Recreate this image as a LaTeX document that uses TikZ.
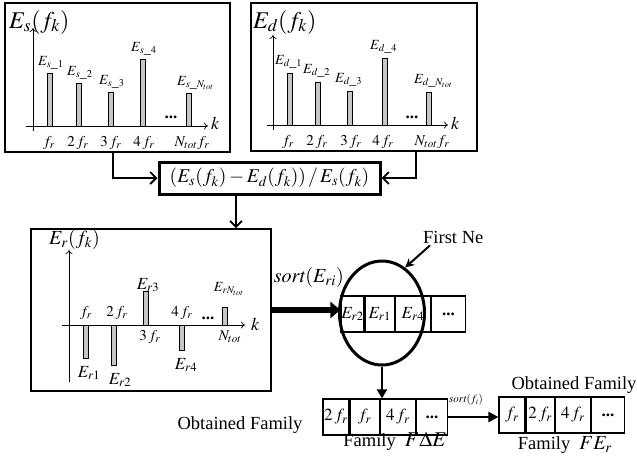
\documentclass[tikz,border=0pt]{standalone}
\usepackage{mathptmx}
\usepackage[no-math]{fontspec}
\setmainfont{Liberation Serif}
\usetikzlibrary{arrows.meta,positioning,shapes.geometric}

\begin{document}
\begin{tikzpicture}[x=1pt,y=-1pt,
  panel/.style={draw,line width=1.6pt,inner sep=0pt},
  bar/.style={draw,fill=gray!45,line width=0.8pt},
  axis/.style={line width=0.7pt,-{To[length=4pt,width=7pt]}},
  tick/.style={font=\fontsize{15}{17}\selectfont,inner sep=0pt},
  small/.style={font=\fontsize{14}{16}\selectfont,inner sep=0pt},
  word/.style={font=\fontsize{18.5}{22}\selectfont,inner sep=0pt},
  cell/.style={draw,line width=1.2pt,minimum height=36pt,inner sep=0pt,font=\fontsize{17}{19}\selectfont},
  link/.style={line width=1.8pt,-{Straight Barb[length=6pt,width=12pt]}},
  fat/.style={line width=6pt,-{Triangle[length=10pt,width=16pt]}}
]
\useasboundingbox (0,0) rectangle (637,461);

% the three spectrum panels and the ratio box
\node[panel,minimum width=225pt,minimum height=149pt] (ps) at (117.5,77.5) {};
\node[panel,minimum width=226pt,minimum height=148pt] (pd) at (364,77) {};
\node[panel,line width=3pt,minimum width=221pt,minimum height=32pt,font=\fontsize{19.5}{22}\selectfont] (fmla) at (269.5,178) {$(E_s(f_k)-E_d(f_k))\,/\,E_s(f_k)$};
\node[panel,minimum width=240pt,minimum height=162pt] (pr) at (151,310) {};

% E_s panel
\node[font=\fontsize{24}{28}\selectfont,anchor=west,inner sep=0pt] (st) at (9,22) {$E_s(f_k)$};
\draw[axis] (33,131) -- (33,28);
\draw[axis] (26,126) -- (208,126);
\node[tick,font=\fontsize{18}{20}\selectfont,anchor=west] (sk) at (211,123) {$k$};
\foreach \x/\h/\lab/\n in {50/73/1/1, 79/83/2/2, 111/92/3/3, 143/59/4/4, 189/93/{N_{tot}}/5} {
  \draw[bar] (\x-2.5,126) rectangle (\x+2.5,\h);
  \node[small,anchor=south west] (sl\n) at (\x-12,\h-3) {$E_{s\_\lab}$};
}
\foreach \x/\lab/\n in {49/f_r/1, 78/2\,f_r/2, 111/3\,f_r/3, 144/4\,f_r/4, 192/N_{tot}f_r/5}
  \node[tick] (sx\n) at (\x,143) {$\lab$};
\node[small,font=\fontsize{17}{18}\bfseries] (sdots) at (171,117) {...};

% E_d panel
\node[font=\fontsize{24}{28}\selectfont,anchor=west,inner sep=0pt] (dt) at (253,22) {$E_d(f_k)$};
\draw[axis] (273,130) -- (273,35);
\draw[axis] (267,125) -- (448,125);
\node[tick,font=\fontsize{18}{20}\selectfont,anchor=west] (dk) at (451,123) {$k$};
\foreach \x/\h/\lab/\n in {290/73/1/1, 318/82/2/2, 350/91/3/3, 385/58/4/4, 429/92/{N_{tot}}/5} {
  \draw[bar] (\x-2.5,125) rectangle (\x+2.5,\h);
  \node[small,anchor=south west] (dl\n) at (\x-15,\h-4) {$E_{d\_\lab}$};
}
\foreach \x/\lab/\n in {288/f_r/1, 317/2\,f_r/2, 351/3\,f_r/3, 383/4\,f_r/4, 432/N_{tot}f_r/5}
  \node[tick] (dx\n) at (\x,142) {$\lab$};
\node[small,font=\fontsize{17}{18}\bfseries] (ddots) at (412,117) {...};

% E_r panel
\node[font=\fontsize{20}{24}\selectfont,anchor=west,inner sep=0pt] (rt) at (49,239) {$E_r(f_k)$};
\draw[axis] (69,382) -- (69,250);
\draw[axis] (62,325) -- (245,325);
\node[tick,font=\fontsize{18}{20}\selectfont,anchor=west] (rk) at (251,324) {$k$};
\foreach \x/\h in {86/358, 114/365, 146/291, 182/350, 225/307}
  \draw[bar] (\x-2.5,325) rectangle (\x+2.5,\h);
\node[tick] (ra1) at (86,313) {$f_r$};
\node[tick] (ra2) at (117,313) {$2\,f_r$};
\node[tick] (ra4) at (182,313) {$4\,f_r$};
\node[small,font=\fontsize{17}{18}\bfseries] (rdots) at (208,318) {...};
\node[tick] (rb3) at (150,337) {$3\,f_r$};
\node[tick] (rbn) at (230,337) {$N_{tot}$};
\node[tick,font=\fontsize{17}{19}\selectfont] (re3) at (148,285) {$E_{r3}$};
\node[small] (ren) at (229,289) {$E_{rN_{tot}}$};
\node[tick,font=\fontsize{17}{19}\selectfont] (re1) at (89,373) {$E_{r1}$};
\node[tick,font=\fontsize{17}{19}\selectfont] (re2) at (120,380) {$E_{r2}$};
\node[tick,font=\fontsize{17}{19}\selectfont] (re4) at (186,365) {$E_{r4}$};

% connectors between panels
\coordinate (sTap) at (113,0);
\coordinate (dTap) at (416,0);
\coordinate (rTap) at (236,0);
\draw[link] (ps.south -| sTap) |- (fmla.west);
\draw[link] (pd.south -| dTap) |- (fmla.east);
\draw[link] (fmla.south -| rTap) -- (pr.north -| rTap);

% sorted ratios
\node[cell,minimum width=23pt] (q1) at (352.5,314) {$E_{r2}$};
\node[cell,minimum width=29pt,right=0pt of q1] (q2) {$E_{r1}$};
\node[cell,minimum width=35pt,right=0pt of q2] (q3) {$E_{r4}$};
\node[cell,minimum width=34pt,right=0pt of q3] (q4) {\bfseries...};
\node[draw,ellipse,line width=3pt,minimum width=85pt,minimum height=104pt,inner sep=0pt] (ring) at (382,313) {};
\draw[fat] (pr.east) -- (q1.west |- pr.east);
\node[font=\fontsize{20}{24}\selectfont,anchor=east,inner sep=0pt] (srt) at (344,277) {$\mathit{sort}(E_{ri})$};
\node[word,anchor=west] (fne) at (423,237) {First Ne};
\draw[line width=2pt,-{Stealth[length=9pt,width=9pt]}] ([xshift=7pt,yshift=-2pt]fne.south west) -- (ring.63);

% families
\node[cell,minimum width=26pt] (f1) at (336,417) {$2\,f_r$};
\node[cell,minimum width=29pt,right=0pt of f1] (f2) {$f_r$};
\node[cell,minimum width=35pt,right=0pt of f2] (f3) {$4\,f_r$};
\node[cell,minimum width=31pt,right=0pt of f3] (f4) {\bfseries...};
\draw[line width=2.4pt,-{Triangle[length=9pt,width=10pt]}] (ring.south) -- (ring.south |- f3.north);
\node[word] (fam1) at (395,441) {Family\hspace{9pt}{\fontsize{21}{24}\selectfont$F\Delta E$}};
\node[word] (obt1) at (240,425) {Obtained Family};

\node[cell,minimum width=26pt] (g1) at (512,415) {$f_r$};
\node[cell,minimum width=28pt,right=0pt of g1] (g2) {$2\,f_r$};
\node[cell,minimum width=35pt,right=0pt of g2] (g3) {$4\,f_r$};
\node[cell,minimum width=33pt,right=0pt of g3] (g4) {\bfseries...};
\draw[line width=2.4pt,-{Triangle[length=10pt,width=10pt]}] (f4.east) -- (f4.east -| g1.west);
\node[font=\fontsize{11}{13}\selectfont,inner sep=0pt] (srt2) at (466,400) {$\mathit{sort}(f_i)$};
\node[word] (obt2) at (574,385) {Obtained Family};
\node[word] (fam2) at (565,445) {Family\hspace{9pt}{\fontsize{20}{24}\selectfont$FE_r$}};
\end{tikzpicture}
\end{document}
